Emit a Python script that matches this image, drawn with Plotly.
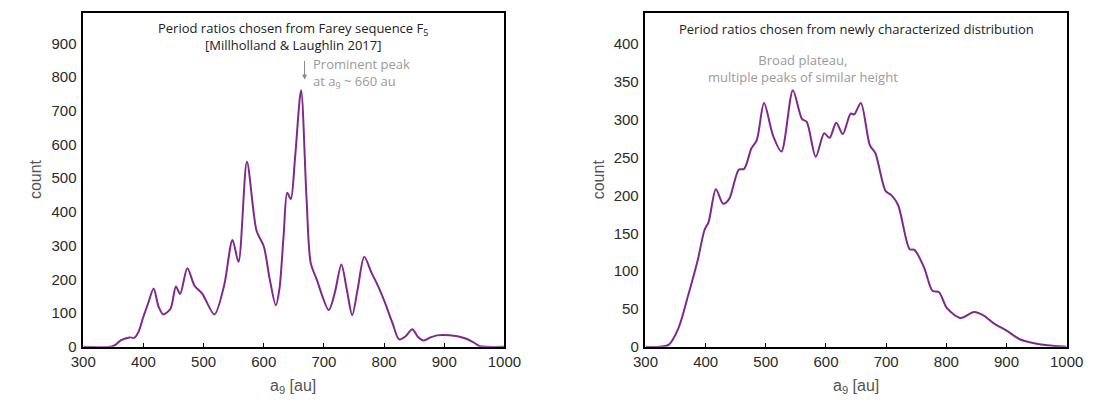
import plotly.graph_objects as go

# Left panel: Farey sequence F5 period ratios
farey_x = [300, 345, 352, 363, 377, 385, 392, 399, 408, 417, 425, 433, 445, 454, 461, 473, 485,
           498, 518, 534, 548, 558, 572, 588, 600, 610, 620, 626, 633, 639, 645, 652, 662, 671,
           678, 688, 708, 718, 729, 738, 747, 756, 767, 779, 790, 801, 814, 825, 835, 847, 856,
           866, 877, 888, 909, 933, 948, 958, 970, 1000]
farey_y = [0, 0, 4, 20, 28, 27, 45, 84, 130, 173, 120, 96, 113, 179, 157, 233, 181,
           157, 96, 181, 317, 252, 549, 344, 298, 200, 123, 171, 330, 457, 438, 560, 761, 443,
           249, 200, 109, 160, 244, 170, 94, 170, 267, 220, 180, 133, 70, 22, 30, 52, 30,
           19, 28, 34, 34, 26, 14, 3, 0, 0]

# Right panel: newly characterized distribution
new_x = [300, 322, 339, 355, 371, 387, 398, 405, 417, 429, 439, 455, 464, 476, 485, 497, 512,
         526, 545, 560, 568, 583, 597, 606, 617, 628, 641, 647, 658, 673, 682, 699, 709, 720,
         739, 747, 763, 777, 788, 801, 824, 846, 863, 879, 901, 922, 944, 968, 1000]
new_y = [0, 0, 3, 25, 68, 115, 154, 165, 208, 189, 195, 234, 235, 262, 273, 322, 279,
         258, 339, 301, 297, 251, 282, 276, 296, 281, 308, 307, 322, 266, 256, 206, 200, 187,
         129, 128, 105, 74, 72, 51, 38, 46, 41, 31, 21, 10, 5, 2, 0]

x_ticks = [300, 400, 500, 600, 700, 800, 900, 1000]
left_y_ticks = [0, 100, 200, 300, 400, 500, 600, 700, 800, 900]
right_y_ticks = [0, 50, 100, 150, 200, 250, 300, 350, 400]

W, H = 1099, 403
PURPLE = "#7e2a8c"
GRAY = "#9a9a9a"

def px(x):
    return x / W

def py(y):
    return 1 - y / H

fig = go.Figure()
fig.add_trace(go.Scatter(x=farey_x, y=farey_y, mode="lines", xaxis="x", yaxis="y",
                         line=dict(color=PURPLE, width=2, shape="spline", smoothing=0.8),
                         showlegend=False, hoverinfo="x+y"))
fig.add_trace(go.Scatter(x=new_x, y=new_y, mode="lines", xaxis="x2", yaxis="y2",
                         line=dict(color=PURPLE, width=2, shape="spline", smoothing=0.8),
                         showlegend=False, hoverinfo="x+y"))

tickfont = dict(family="Liberation Sans, Arial, sans-serif", size=15, color="#2a2a2a")
ydom = [py(345.7), py(5)]

common_x = dict(range=[300, 1000], tickvals=x_ticks, ticks="inside", ticklen=4, tickwidth=1,
                tickcolor="black", showline=True, linecolor="black", linewidth=1.5, mirror=True,
                showgrid=False, zeroline=False, tickfont=tickfont)
common_y = dict(ticks="", showline=True, linecolor="black", linewidth=1.5, mirror=True,
                showgrid=False, zeroline=False, tickfont=tickfont, ticklabelstandoff=2)

fig.update_layout(
    width=W, height=H,
    margin=dict(l=0, r=0, t=0, b=0),
    paper_bgcolor="white", plot_bgcolor="white",
    xaxis=dict(domain=[px(64), px(497)], anchor="y", **common_x),
    yaxis=dict(domain=ydom, anchor="x", range=[0, 990], tickvals=left_y_ticks, **common_y),
    xaxis2=dict(domain=[px(642), px(1075)], anchor="y2", **common_x),
    yaxis2=dict(domain=ydom, anchor="x2", range=[0, 441], tickvals=right_y_ticks, **common_y),
)

title_font = dict(family="Open Sans, Noto Sans, sans-serif", size=13, color="#222222")
ann_font = dict(family="Open Sans, Noto Sans, sans-serif", size=13, color=GRAY)
axis_title_font = dict(family="Liberation Sans, Arial, sans-serif", size=16, color="#555555")

annotations = [
    dict(text="Period ratios chosen from Farey sequence F<sub>5</sub><br>[Millholland &amp; Laughlin 2017]",
         x=px(280), y=py(29), xref="paper", yref="paper", showarrow=False,
         xanchor="center", yanchor="middle", font=title_font),
    dict(text="Prominent peak<br>at a<sub>9</sub> ~ 660 au",
         x=px(298), y=py(67), xref="paper", yref="paper", showarrow=False,
         xanchor="left", yanchor="middle", align="left", font=ann_font),
    dict(text="", x=px(291.5), y=py(73), xref="paper", yref="paper", showarrow=True,
         ax=0, ay=-20, arrowhead=2, arrowsize=1, arrowwidth=1, arrowcolor="#888888"),
    dict(text="Period ratios chosen from newly characterized distribution",
         x=px(858.5), y=py(21), xref="paper", yref="paper", showarrow=False,
         xanchor="center", yanchor="middle", font=title_font),
    dict(text="Broad plateau,<br>multiple peaks of similar height",
         x=px(804), y=py(62), xref="paper", yref="paper", showarrow=False,
         xanchor="center", yanchor="middle", align="center", font=ann_font),
    dict(text="a<sub>9</sub> [au]", x=px(280), y=py(386), xref="paper", yref="paper",
         showarrow=False, xanchor="center", yanchor="middle", font=axis_title_font),
    dict(text="a<sub>9</sub> [au]", x=px(858.5), y=py(386), xref="paper", yref="paper",
         showarrow=False, xanchor="center", yanchor="middle", font=axis_title_font),
    dict(text="count", x=px(15), y=py(175), xref="paper", yref="paper", textangle=-90,
         showarrow=False, xanchor="center", yanchor="middle", font=axis_title_font),
    dict(text="count", x=px(594), y=py(175), xref="paper", yref="paper", textangle=-90,
         showarrow=False, xanchor="center", yanchor="middle", font=axis_title_font),
]
fig.update_layout(annotations=annotations)

fig.write_html("out.html")
